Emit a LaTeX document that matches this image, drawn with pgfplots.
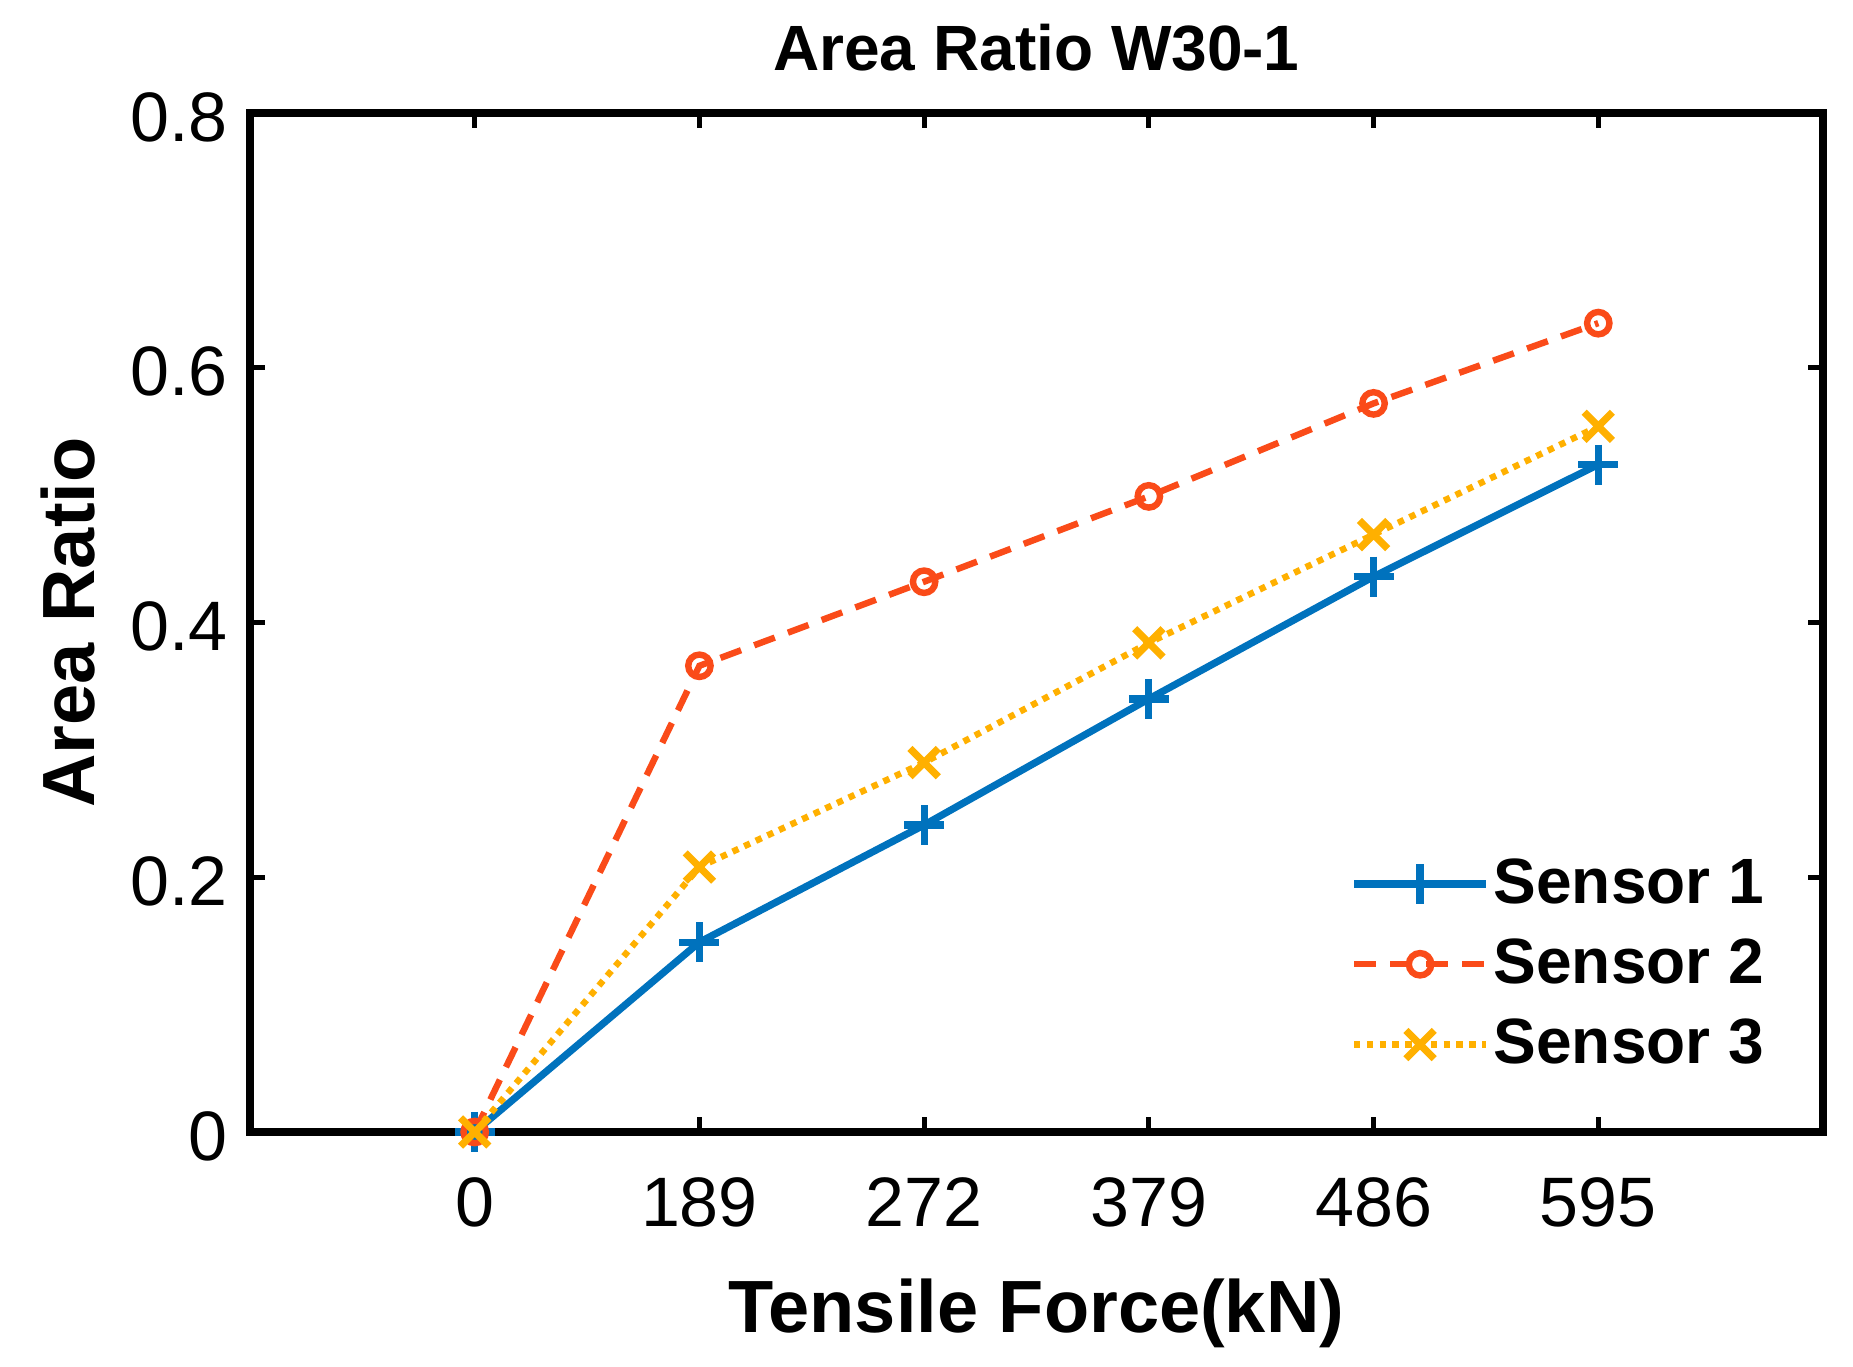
\documentclass[border=0pt]{standalone}
\usepackage{fontspec}
\setmainfont{Liberation Sans}
\usepackage{pgfplots}
\pgfplotsset{compat=1.18}
\definecolor{s1}{RGB}{0,114,189}
\definecolor{s2}{RGB}{250,75,25}
\definecolor{s3}{RGB}{255,176,0}
\begin{document}
\begin{tikzpicture}
\useasboundingbox (-62.5pt,-58.75pt) rectangle (400.75pt,283pt);
\begin{axis}[
  at={(0pt,0pt)}, anchor=south west,
  scale only axis, width=393.25pt, height=254.75pt,
  xmin=-1, xmax=6, ymin=0, ymax=0.8,
  xtick={0,1,2,3,4,5},
  xticklabels={0,189,272,379,486,595},
  ytick={0,0.2,0.4,0.6,0.8},
  yticklabels={0,0.2,0.4,0.6,0.8},
  tick pos=both, tick align=inside,
  major tick length=3.8pt,
  axis line style={line width=1.8pt},
  every tick/.style={black, line width=1.3pt},
  /pgf/number format/assume math mode=true,
  ticklabel style={font=\fontsize{17.5}{20}\selectfont},
  yticklabel style={xshift=-2pt, yshift=-1pt},
  xticklabel style={yshift=-8pt},
  title={Area Ratio W30-1},
  title style={font=\bfseries\fontsize{16}{19}\selectfont, at={(0.5,1)}, anchor=base, yshift=4.5pt},
  xlabel={Tensile Force(kN)},
  xlabel style={font=\bfseries\fontsize{18.5}{22}\selectfont, at={(0.5,0)}, anchor=base, yshift=-50.25pt},
  ylabel={Area Ratio},
  ylabel style={font=\bfseries\fontsize{18.5}{22}\selectfont, at={(0,0.5)}, anchor=base, yshift=38.75pt},
  clip=false,
  legend cell align=left,
  legend style={draw=none, fill=none, inner sep=0pt, outer sep=0pt,
    font=\bfseries\fontsize{16}{19}\selectfont,
    at={(0.6996,0.057)}, anchor=south west, row sep=5.4pt,
    nodes={inner sep=1pt}},
  legend image code/.code={\draw[mark repeat=2,mark phase=2] plot coordinates {(0pt,0pt)(16.5pt,0pt)(33pt,0pt)};},
]
\addplot[color=s1, line width=1.8pt, mark=+, mark size=5pt, mark options={solid, line width=1.8pt}]
  coordinates {(0,0) (1,0.149) (2,0.241) (3,0.340) (4,0.436) (5,0.524)};
\addlegendentry{Sensor 1}
\addplot[color=s2, line width=1.6pt, dash pattern=on 5.5pt off 3.5pt, mark=o, mark size=2.8pt, mark options={solid, line width=1.6pt}]
  coordinates {(0,0) (1,0.366) (2,0.432) (3,0.499) (4,0.572) (5,0.635)};
\addlegendentry{Sensor 2}
\addplot[color=s3, line width=1.6pt, dash pattern=on 1.6pt off 1.6pt, mark=x, mark size=5pt, mark options={solid, line width=1.8pt}]
  coordinates {(0,0) (1,0.208) (2,0.290) (3,0.384) (4,0.469) (5,0.554)};
\addlegendentry{Sensor 3}
\end{axis}
\end{tikzpicture}
\end{document}
